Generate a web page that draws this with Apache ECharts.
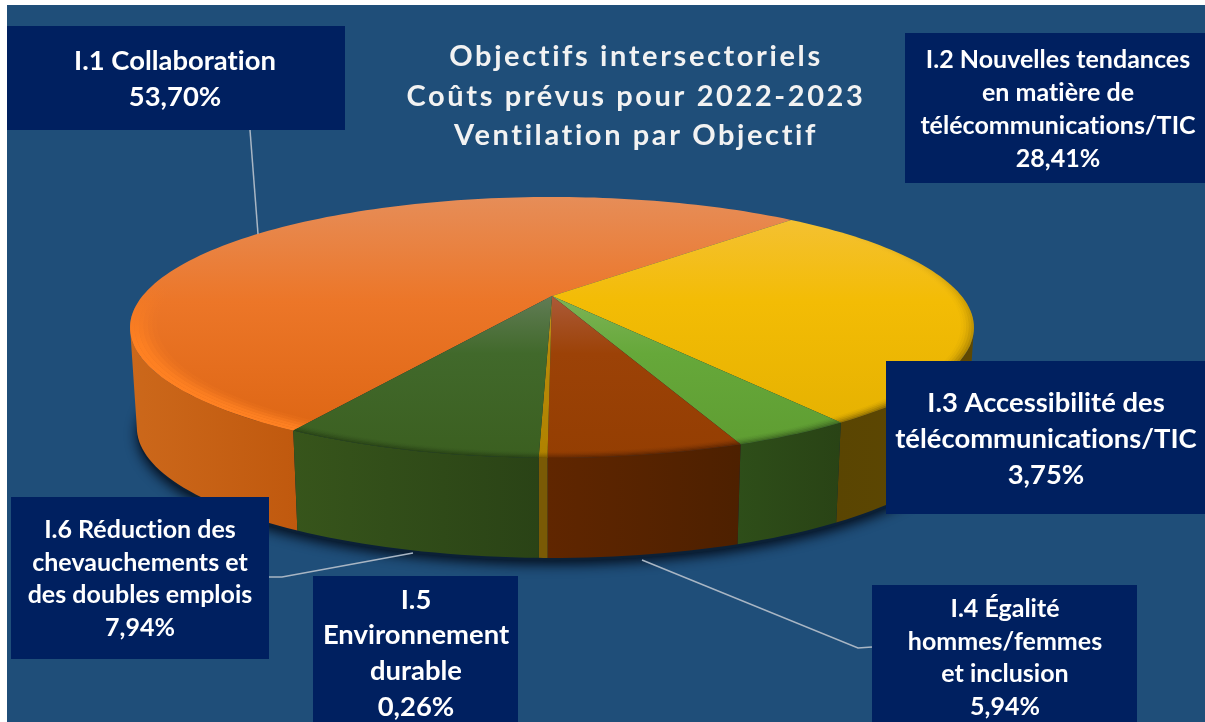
<!DOCTYPE html>
<html>
<head>
<meta charset="utf-8">
<style>html,body{margin:0;padding:0;background:#fff}#main{width:1205px;height:722px}</style>
<script src="https://cdn.jsdelivr.net/npm/echarts@6/dist/echarts.min.js"></script>
</head>
<body>
<div id="main"></div>
<script>
var titleLines = ["Objectifs intersectoriels", "Coûts prévus pour 2022-2023", "Ventilation par Objectif"];
var categories = ["I.1 Collaboration", "I.2 Nouvelles tendances\nen matière de\ntélécommunications/TIC", "I.3 Accessibilité des\ntélécommunications/TIC", "I.4 Égalité\nhommes/femmes\net inclusion", "I.5\nEnvironnement\ndurable", "I.6 Réduction des\nchevauchements et\ndes doubles emplois"];
var values = [53.70, 28.41, 3.75, 5.94, 0.26, 7.94];

// top face colours, from the back of the disc to its front edge
var topColors = [
  ["#E68D58", "#EC7628", "#DB6310"],
  ["#F4C23E", "#F3BC05", "#E2AF00"],
  ["#7DB356", "#66A83A", "#5E9C31"],
  ["#AC5A38", "#9C4207", "#943E02"],
  ["#BE9220", "#B88908", "#B08200"],
  ["#617C55", "#41692B", "#3B5F20"]
];
var wallColors = [
  ["#CC681B", "#C0590E"],
  ["#5E4802", "#5A4502"],
  ["#2E4E19", "#294315"],
  ["#602600", "#4D2000"],
  ["#7A5A05", "#7A5A05"],
  ["#37551B", "#2A4316"]
];
var rimColors = ["#FF8122", "#3A2A00", "#1C3010", "#2A0E00", "#3A2A00", "#14240A"];
var rimAlpha = {
  bright: [0.12, 0.3, 0.55, 0.8, 0.95, 1],
  dark: [0, 0.04, 0.1, 0.2, 0.32, 0.45]
};

// disc projection: apex of the pie and perspective of the tilted disc
var cx = 552, cy = 296, rx = 409.5, ry = 122.9, persp = 0.241, depth = 100, bottomScale = 0.984;
var startDeg = 210;
// part of the disc whose outer wall faces the viewer
var wallFrom = 104, wallTo = 256;

function project(deg, r, drop) {
  var a = deg * Math.PI / 180;
  var u = Math.sin(a) * r, v = -Math.cos(a) * r;
  var w = 1 - persp * v;
  var s = drop ? bottomScale : 1;
  return [cx + rx * s * u / w, cy + (drop ? depth : 0) + ry * v / w];
}
function arc(from, to, r, drop) {
  var pts = [];
  var n = Math.max(2, Math.ceil(Math.abs(to - from) / 1.5));
  for (var i = 0; i <= n; i++) pts.push(project(from + (to - from) * i / n, r, drop));
  return pts;
}
function sliceRange(idx) {
  var total = 0, before = 0;
  for (var i = 0; i < values.length; i++) {
    total += values[i];
    if (i < idx) before += values[i];
  }
  var a = startDeg + before / total * 360, b = startDeg + (before + values[idx]) / total * 360;
  return a >= 360 ? [a - 360, b - 360] : [a, b];
}
function rgba(hex, a) {
  var c = parseInt(hex.slice(1), 16);
  return "rgba(" + (c >> 16) + "," + ((c >> 8) & 255) + "," + (c & 255) + "," + a + ")";
}
function vGradient(y1, y2, stops) {
  return {type: "linear", x: 0, y: y1, x2: 0, y2: y2, global: true, colorStops: stops};
}

function renderWall(params, api) {
  var idx = params.dataIndex;
  var range = sliceRange(idx);
  var from = Math.max(range[0], wallFrom), to = Math.min(range[1], wallTo);
  var children = [];
  if (idx === 0) {
    // soft shadow on the background under the pie
    children.push({
      type: "polygon",
      shape: {points: arc(0, 360, 1, true).map(function (p) { return [p[0], p[1] + 3]; })},
      style: {fill: "#0B2036", shadowBlur: 12, shadowColor: "rgba(4,14,28,0.95)", shadowOffsetY: 4}
    });
  }
  if (to <= from) return {type: "group", children: children};
  var upper = arc(from, to, 1, false);
  var lower = arc(from, to, 1, true);
  var xs = upper.concat(lower).map(function (p) { return p[0]; });
  var flip = idx === 1 || idx === 4;
  children.push({
    type: "polygon",
    shape: {points: upper.concat(lower.reverse())},
    style: {
      fill: {
        type: "linear", global: true,
        x: Math.min.apply(null, xs), y: 0, x2: Math.max.apply(null, xs), y2: 0,
        colorStops: [
          {offset: 0, color: wallColors[idx][flip ? 1 : 0]},
          {offset: 1, color: wallColors[idx][flip ? 0 : 1]}
        ]
      }
    }
  });
  return {type: "group", children: children};
}

function renderTop(params, api) {
  var idx = params.dataIndex;
  var range = sliceRange(idx);
  var c = topColors[idx];
  var children = [{
    type: "polygon",
    shape: {points: [project(0, 0, false)].concat(arc(range[0], range[1], 1, false))},
    style: {
      fill: vGradient(197, 458, idx === 0 || idx === 1
        ? [{offset: 0, color: c[0]}, {offset: 0.4, color: c[1]}, {offset: 1, color: c[2]}]
        : [{offset: 0.38, color: c[0]}, {offset: 0.6, color: c[1]}, {offset: 1, color: c[2]}])
    }
  }];
  // bevel along the outer edge, stronger towards the viewer
  var alphas = idx === 0 ? rimAlpha.bright : rimAlpha.dark;
  var rimIn = idx === 0 ? 0.94 : 0.965;
  for (var i = 0; i < 6; i++) {
    var r0 = rimIn + i * (1 - rimIn) / 6, r1 = r0 + (1 - rimIn) / 6;
    children.push({
      type: "polygon",
      shape: {points: arc(range[0], range[1], r0, false).concat(arc(range[0], range[1], r1, false).reverse())},
      style: {
        fill: vGradient(idx === 0 ? 285 : 230, idx === 0 ? 345 : 400, [
          {offset: 0, color: rgba(rimColors[idx], 0)},
          {offset: 1, color: rgba(rimColors[idx], alphas[i])}
        ])
      }
    });
  }
  return {type: "group", children: children};
}

var FONT = "Lato, Carlito, 'Noto Sans', sans-serif";
var pct = values.map(function (v) { return v.toFixed(2).replace(".", ",") + "%"; });

// label boxes: left, top, right, bottom, text centre x, centre y, font size, line height
var boxes = [
  [7, 26, 345, 130, 175, 79, 27.4, 36],
  [905, 33, 1205, 183, 1058, 109, 25, 33],
  [886, 361, 1205, 514, 1046, 439, 27.4, 36],
  [872, 585, 1137, 722, 1005, 658, 25, 32.7],
  [313, 576, 518, 722, 416, 653.5, 27.4, 35.7],
  [11, 497, 269, 659, 140, 579, 25, 32.8]
];
var leaders = [
  [[250, 130], [258, 234]],
  [[269, 577], [282, 577], [413, 553]],
  [[642, 560], [858, 648], [872, 647]]
];

var graphics = [{
  type: "rect", z: -10, silent: true,
  shape: {x: 7, y: 5, width: 1198, height: 717},
  style: {fill: "#1F4E79"}
}];
leaders.forEach(function (pts) {
  graphics.push({
    type: "polyline", z: 50, silent: true,
    shape: {points: pts},
    style: {fill: null, stroke: "#A9B6C4", lineWidth: 1.5}
  });
});
boxes.forEach(function (b, i) {
  graphics.push({
    type: "rect", z: 100, silent: true,
    shape: {x: b[0], y: b[1], width: b[2] - b[0], height: b[3] - b[1]},
    style: {fill: "#002060"}
  });
  graphics.push({
    type: "text", z: 101, silent: true, x: b[4], y: b[5],
    style: {
      text: categories[i] + "\n" + pct[i],
      fill: "#fff", align: "center", verticalAlign: "middle",
      font: "700 " + b[6] + "px " + FONT, lineHeight: b[7]
    }
  });
});
titleLines.forEach(function (t, i) {
  graphics.push({
    type: "text", zlevel: 5, z: 110, silent: true, x: 636, y: 57 + i * 39.5,
    style: {
      text: t, fill: "#F2F2F2", align: "center", verticalAlign: "middle",
      font: "700 29px " + FONT,
      shadowBlur: 4, shadowColor: "rgba(0,0,0,0.8)", shadowOffsetX: 1, shadowOffsetY: 2
    }
  });
});

var chart = echarts.init(document.getElementById("main"), null, {renderer: "canvas"});
// the title is letter spaced, it sits on its own canvas layer for that
var painter = chart.getZr().painter;
painter.getLayer(5).ctx.letterSpacing = "2.6px";
// tiny spacing on the main layer only to switch off the Lato "ti" ligature
painter.getLayer(0).ctx.letterSpacing = "0.01px";
chart.setOption({
  animation: false,
  backgroundColor: "#fff",
  graphic: {elements: graphics},
  series: [
    {type: "custom", coordinateSystem: "none", z: 2, silent: true, renderItem: renderWall, data: values},
    {type: "custom", coordinateSystem: "none", z: 3, silent: true, renderItem: renderTop, data: values}
  ]
});
</script>
</body>
</html>
